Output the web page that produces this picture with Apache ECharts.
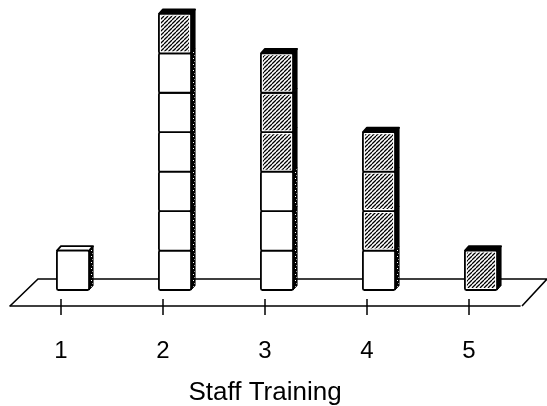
<!DOCTYPE html>
<html><head><meta charset="utf-8">
<style>html,body{margin:0;padding:0;background:#fff}#c{width:547px;height:406px}#c canvas{filter:blur(.35px)}</style>
<script src="https://cdn.jsdelivr.net/npm/echarts@6/dist/echarts.min.js"></script>
</head><body><div id="c"></div>
<script>
const categories = ['1','2','3','4','5'];
const plainBlocks = [1,6,3,1,0];
const shadedBlocks = [0,1,3,3,1];
const axisTitle = 'Staff Training';

function makePattern(kind){
  const s = kind==='hatch'?4:6;
  const c = document.createElement('canvas'); c.width=s; c.height=s;
  const g = c.getContext('2d');
  g.fillStyle='#fff'; g.fillRect(0,0,s,s);
  if(kind==='hatch'){
    g.strokeStyle='#000'; g.lineWidth=1.25;
    for(let i=-s;i<=2*s;i+=s){g.beginPath();g.moveTo(i,s);g.lineTo(i+s,0);g.stroke();}
  } else {
    g.fillStyle='#000'; g.fillRect(0,0,s,s);
    g.fillStyle='#fff'; g.fillRect(2,1,1,1);g.fillRect(1,4,1,1);
  }
  return c;
}
const hatch = {image:makePattern('hatch'),repeat:'repeat'};
const speck = {image:makePattern('speck'),repeat:'repeat'};

const blocks = [];
categories.forEach((_,i)=>{
  let h=0;
  for(let k=0;k<plainBlocks[i];k++){blocks.push([i,h,h+1,0,plainBlocks[i]+shadedBlocks[i]]);h++;}
  for(let k=0;k<shadedBlocks[i];k++){blocks.push([i,h,h+1,1,plainBlocks[i]+shadedBlocks[i]]);h++;}
});

function renderBlock(p,api){
  const i=api.value(0),lo=api.value(1),hi=api.value(2),shaded=api.value(3),total=api.value(4);
  const band=api.size([1,0])[0];
  const w=band*0.315, off=-band*0.04, dx=4, dy=4.5;
  const a=api.coord([i,lo]), b=api.coord([i,hi]);
  const x=a[0]+off, y0=a[1], y1=b[1];
  const sideFill=shaded?'#000':speck;
  const ch=[];
  ch.push({type:'polygon',shape:{points:[[x+w,y1],[x+w+dx,y1-dy],[x+w+dx,y0-dy],[x+w,y0]]},style:{fill:sideFill,stroke:'#000',lineWidth:1}});
  if(hi===total){
    ch.push({type:'polygon',shape:{points:[[x,y1],[x+dx,y1-dy],[x+w+dx,y1-dy],[x+w,y1]]},style:{fill:shaded?'#000':'#fff',stroke:'#000',lineWidth:1.8,lineJoin:'round'}});
  }
  ch.push({type:'rect',shape:{x:x,y:y1,width:w,height:y0-y1,r:1.5},style:{fill:'#fff',stroke:'#000',lineWidth:1.8}});
  if(shaded){
    ch.push({type:'rect',shape:{x:x+2,y:y1+2,width:w-4,height:y0-y1-4},style:{fill:hatch}});
  }
  return {type:'group',children:ch};
}
function renderFloor(p,api){
  const cs=p.coordSys, bottom=cs.y+cs.height, depth=27, back=bottom-depth;
  return {type:'polyline',silent:true,shape:{points:[[cs.x,bottom],[cs.x+depth+1,back],[cs.x+cs.width+27,back],[cs.x+cs.width+2,bottom]]},
    style:{fill:null,stroke:'#000',lineWidth:1.6}};
}
function renderUpperTick(p,api){
  const cs=p.coordSys, bottom=cs.y+cs.height, x=api.coord([api.value(0),0])[0];
  return {type:'line',silent:true,shape:{x1:x,y1:bottom-7,x2:x,y2:bottom},style:{stroke:'#000',lineWidth:1.5}};
}
const chart=echarts.init(document.getElementById('c'),null,{renderer:'canvas'});
chart.setOption({
  animation:false,backgroundColor:'#fff',
  grid:{left:10,width:510,top:2,bottom:100,containLabel:false,outerBoundsMode:'none'},
  xAxis:{type:'category',data:categories,position:'bottom',
    axisLine:{show:true,lineStyle:{color:'#000',width:1.6},onZero:false},
    axisTick:{show:true,alignWithLabel:true,length:9,lineStyle:{color:'#000',width:1.5}},
    axisLabel:{color:'#000',fontFamily:'Liberation Sans',fontSize:24,margin:33},
    name:axisTitle,nameLocation:'middle',nameGap:74,
    nameTextStyle:{color:'#000',fontFamily:'Liberation Sans',fontSize:26}},
  yAxis:{type:'value',min:-0.405,max:7.3,show:false,splitLine:{show:false}},
  series:[
    {type:'custom',renderItem:renderFloor,data:[[0]],clip:false,silent:true,z:1,encode:{x:0}},
    {type:'custom',renderItem:renderUpperTick,data:categories.map((_,i)=>[i]),clip:false,silent:true,z:1,encode:{x:0}},
    {type:'custom',renderItem:renderBlock,data:blocks,clip:false,z:2,encode:{x:0,y:[1,2]}}
  ]
});
</script></body></html>
